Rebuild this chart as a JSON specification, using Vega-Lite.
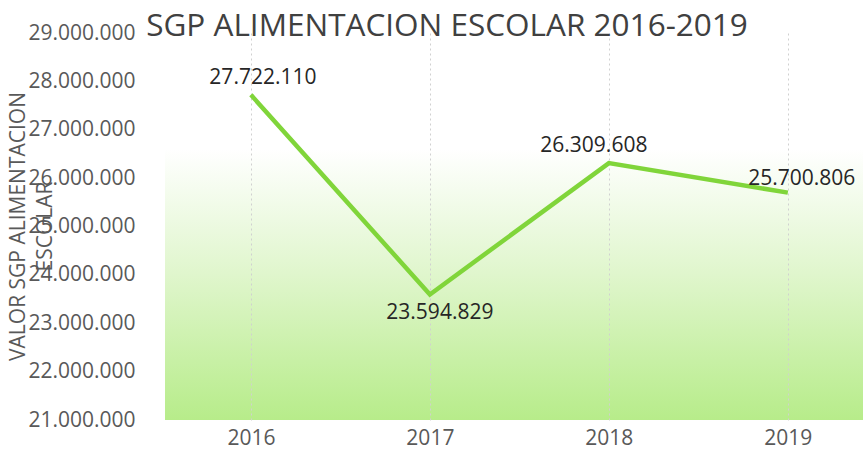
{
  "$schema": "https://vega.github.io/schema/vega-lite/v6.json",
  "width": 698,
  "height": 387,
  "autosize": {"type": "none"},
  "padding": {"left": 165, "top": 33, "right": 0, "bottom": 30},
  "background": "white",
  "config": {
    "locale": {"number": {"decimal": ",", "thousands": ".", "grouping": [3], "currency": ["$", ""]}},
    "font": "Open Sans"
  },
  "view": {
    "stroke": null,
    "fill": {
      "gradient": "linear", "x1": 0, "y1": 0, "x2": 0, "y2": 1,
      "stops": [
        {"offset": 0, "color": "#ffffff"},
        {"offset": 0.3, "color": "#ffffff"},
        {"offset": 0.62, "color": "#e0f6cd"},
        {"offset": 1, "color": "#b7ec8a"}
      ]
    }
  },
  "title": {
    "text": "SGP ALIMENTACION ESCOLAR 2016-2019",
    "font": "Open Sans",
    "fontSize": 31.5,
    "fontWeight": "normal",
    "color": "#404040",
    "anchor": "middle",
    "frame": "group",
    "dx": -67,
    "offset": -20
  },
  "data": {
    "values": [
      {"anio": 2016, "valor": 27722110},
      {"anio": 2017, "valor": 23594829},
      {"anio": 2018, "valor": 26309608},
      {"anio": 2019, "valor": 25700806}
    ]
  },
  "encoding": {
    "x": {
      "field": "anio", "type": "quantitative",
      "scale": {"domain": [2015.52, 2019.42], "nice": false, "zero": false},
      "axis": {
        "title": null, "values": [2016, 2017, 2018, 2019], "format": "d",
        "domain": false, "ticks": false, "tickSize": 0,
        "labelFont": "Open Sans", "labelFontSize": 21, "labelColor": "#595959",
        "labelPadding": 7,
        "grid": true, "gridColor": "#d0d0d0", "gridDash": [2, 3], "gridWidth": 1
      }
    },
    "y": {
      "field": "valor", "type": "quantitative",
      "scale": {"domain": [21000000, 29000000], "nice": false, "zero": false},
      "axis": {
        "title": ["VALOR SGP  ALIMENTACION", "ESCOLAR"],
        "titleFont": "Open Sans", "titleFontSize": 21, "titleFontWeight": "normal",
        "titleColor": "#595959", "titleLineHeight": 27,
        "titleAngle": -90, "titleAlign": "center", "titleBaseline": "middle",
        "titleX": -147, "titleY": 193,
        "values": [21000000, 22000000, 23000000, 24000000, 25000000, 26000000, 27000000, 28000000, 29000000],
        "format": ",d",
        "domain": false, "ticks": false, "tickSize": 0, "grid": false,
        "labelFont": "Open Sans", "labelFontSize": 21, "labelColor": "#595959",
        "labelPadding": 30
      }
    }
  },
  "layer": [
    {
      "mark": {"type": "line", "color": "#80d53a", "strokeWidth": 4.5}
    },
    {
      "mark": {
        "type": "text",
        "font": "Open Sans",
        "fontSize": 21,
        "color": "#262626",
        "baseline": "middle",
        "align": "center",
        "dx": {"expr": "datum.anio == 2016 ? 12 : datum.anio == 2017 ? 10 : datum.anio == 2018 ? -15 : 14"},
        "dy": {"expr": "datum.anio == 2017 ? 19 : datum.anio == 2019 ? -14 : -17"}
      },
      "encoding": {
        "text": {"field": "valor", "type": "quantitative", "format": ",d"}
      }
    }
  ]
}
